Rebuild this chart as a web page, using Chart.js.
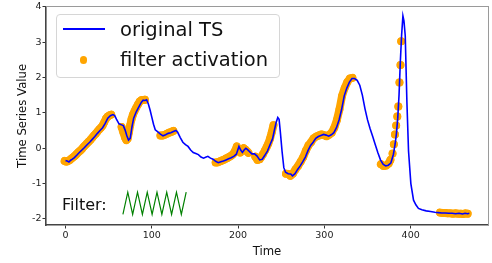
<!DOCTYPE html>
<html>
<head>
<meta charset="utf-8">
<script src="https://cdn.jsdelivr.net/npm/chart.js@4.4.1/dist/chart.umd.min.js"></script>
<style>
  body { margin: 0; background: #fff; }
  #wrap { position: relative; width: 492px; height: 263px; }
  #legend {
    position: absolute; left: 56px; top: 13.5px; width: 222px; height: 62px;
    border: 1px solid #d6d6d6; border-radius: 4px; background: rgba(255,255,255,0.8);
    font-family: "DejaVu Sans"; font-size: 19.5px; line-height: 19px; color: #111;
  }
  #legend .txt { position: absolute; left: 63px; white-space: nowrap; }
  #legend .ln { position: absolute; left: 6px; top: 13.8px; width: 42px; height: 2px; background: #0000ff; }
  #legend .dot { position: absolute; left: 22.6px; top: 41.8px; width: 7.6px; height: 7.6px; border-radius: 50%; background: #ffa500; }
  #filterLabel {
    position: absolute; left: 62px; top: 196.5px; font-family: "DejaVu Sans";
    font-size: 16px; line-height: 16px; color: #111;
  }
</style>
</head>
<body>
<div id="wrap">
  <canvas id="chart" width="492" height="263"></canvas>
  <div id="legend">
    <span class="ln"></span><span class="txt" style="top:5.2px">original TS</span>
    <span class="dot"></span><span class="txt" style="top:35.2px">filter activation</span>
  </div>
  <div id="filterLabel">Filter:</div>
</div>
<script>
// original time series
const timeX = [0, 2, 4, 6, 8, 10, 13, 16, 19, 22, 25, 28, 31, 34, 37, 40, 43, 46, 49, 52, 55, 57, 59, 62, 65, 67, 69, 71, 73, 75,
  77, 79, 82, 85, 88, 90, 92, 94, 96, 98, 100, 102, 104, 107, 110, 113, 116, 119, 122, 125, 128, 130, 133, 136, 139, 142, 145,
  148, 151, 154, 157, 160, 163, 165, 168, 171, 174, 177, 180, 183, 186, 189, 192, 195, 198, 201, 203, 205, 207, 209, 211, 213,
  216, 219, 222, 225, 228, 231, 234, 237, 240, 242, 244, 246, 247.5, 249, 251, 253, 255, 258, 261, 263, 266, 269, 272, 275,
  278, 281, 284, 287, 290, 293, 296, 299, 302, 305, 308, 311, 314, 317, 320, 323, 326, 329, 332, 335, 338, 341, 344, 347, 350,
  353, 356, 359, 362, 365, 368, 371, 374, 377, 380, 382, 383.5, 385, 386.5, 388, 389.5, 391, 392.2, 393.7, 395.6, 397.5, 400.2,
  403.3, 406, 409, 413, 418, 423, 428, 432, 436, 440, 444, 448, 452, 456, 460, 463, 466, 468];
const tsValue = [-0.35, -0.36, -0.39, -0.34, -0.31, -0.27, -0.2, -0.12, -0.05, 0.02, 0.1, 0.17, 0.25, 0.33, 0.42, 0.5, 0.58,
  0.7, 0.85, 0.92, 0.95, 0.92, 0.82, 0.69, 0.66, 0.64, 0.52, 0.36, 0.23, 0.28, 0.6, 0.85, 1.03, 1.17, 1.3, 1.36, 1.35, 1.37,
  1.25, 1.08, 0.88, 0.68, 0.52, 0.46, 0.4, 0.35, 0.38, 0.42, 0.44, 0.47, 0.5, 0.45, 0.3, 0.17, 0.1, 0.05, -0.05, -0.12, -0.15,
  -0.18, -0.25, -0.28, -0.25, -0.23, -0.28, -0.31, -0.37, -0.41, -0.38, -0.36, -0.33, -0.3, -0.27, -0.23, -0.17, 0.05, -0.05,
  -0.12, -0.05, 0.0, -0.04, -0.09, -0.16, -0.16, -0.22, -0.33, -0.31, -0.2, -0.08, 0.1, 0.27, 0.5, 0.72, 0.87, 0.82, 0.45,
  -0.1, -0.55, -0.68, -0.72, -0.73, -0.78, -0.72, -0.6, -0.5, -0.38, -0.25, -0.07, 0.08, 0.17, 0.28, 0.33, 0.36, 0.39, 0.37,
  0.34, 0.38, 0.44, 0.58, 0.8, 1.1, 1.48, 1.7, 1.87, 1.97, 1.97, 1.92, 1.78, 1.5, 1.12, 0.8, 0.55, 0.33, 0.1, -0.13, -0.33,
  -0.45, -0.5, -0.48, -0.42, -0.17, 0.12, 0.42, 0.85, 1.5, 2.44, 3.2, 3.74, 3.6, 3.18, 1.32, -0.08, -1.0, -1.47, -1.6, -1.7,
  -1.74, -1.77, -1.79, -1.81, -1.82, -1.83, -1.83, -1.84, -1.84, -1.85, -1.84, -1.86, -1.84, -1.85, -1.84];

// filter activation points (null = break between activated stretches)
const actX = [-1, 1, 3, 5, 7, 9, 11, 13, 15, 17, 19, 21, 23, 25, 27, 29, 31, 33, 35, 37, 39, 41, 43, 45, 47, 49, 51, 53, null,
  65, 67, 69, 70.5, 72, 73.5, 75, 76.5, 78, 80, 82, 84, 86, 88, 90, 92, null,
  110, 112.5, 115, 117.5, 120, 122.5, 125, null,
  174, 176, 178, 180, 182, 184, 186, 188, 190, 192, 194, 196, 198.5, 200.5, 202.5, 204.5, 206.5, 208.5, 210.5, 212, null,
  220, 222.5, 225, 227, 229, 231, 233, 235, 237, 239, 241, null,
  255.5, 258.5, 260.5, 263.5, 266.5, 269.5, 272.5, 275.5, 278.5, 281.5, 284.5, 287.5, 290.5, 293.5, 296.5, 299.5, 302.5,
  305.5, 308.5, 311.5, 314.5, 317.5, 320.5, 323.5, 326.5, 329.5, 332.5, null,
  365.5, 368.5, 371.5, 374.5, 376.5, null, 379, null, 380.5, null, 381.8, null, 383.2, null, 384.5, null, 385.7, null,
  387, null, 388.2, null, 389, null,
  434, 437, 440, 443, 446, 449, 452, 455, 458, 461, 463.5, 466];
const actY = [-0.36, -0.38, -0.36, -0.33, -0.29, -0.25, -0.21, -0.16, -0.11, -0.07, -0.02, 0.04, 0.09, 0.14, 0.19, 0.24, 0.3,
  0.36, 0.41, 0.47, 0.53, 0.58, 0.64, 0.74, 0.84, 0.9, 0.93, 0.95, null,
  0.6, 0.45, 0.3, 0.23, 0.27, 0.45, 0.65, 0.82, 0.94, 1.05, 1.15, 1.24, 1.32, 1.36, 1.36, 1.37, null,
  0.36, 0.36, 0.38, 0.41, 0.44, 0.46, 0.49, null,
  -0.4, -0.4, -0.38, -0.36, -0.34, -0.32, -0.29, -0.27, -0.24, -0.21, -0.17, -0.1, 0.05, -0.05, -0.12, -0.05, 0.0, -0.04,
  -0.09, -0.13, null,
  -0.24, -0.33, -0.31, -0.24, -0.16, -0.07, 0.03, 0.13, 0.27, 0.45, 0.65, null,
  -0.72, -0.73, -0.78, -0.72, -0.6, -0.5, -0.38, -0.25, -0.07, 0.08, 0.17, 0.28, 0.33, 0.36, 0.39, 0.37, 0.34, 0.38, 0.44,
  0.58, 0.8, 1.1, 1.48, 1.7, 1.87, 1.97, 1.99, null,
  -0.45, -0.5, -0.49, -0.43, -0.33, null, -0.15, null, 0.11, null, 0.39, null, 0.64, null, 0.9, null, 1.18, null,
  1.86, null, 2.35, null, 3.02, null,
  -1.82, -1.83, -1.83, -1.84, -1.84, -1.85, -1.84, -1.85, -1.85, -1.86, -1.84, -1.85];

// the learned filter drawn in the inset
const filterIdx = [0, 1, 2, 3, 4, 5, 6, 7, 8, 9, 10, 11, 12, 13];
const filterWeight = [-1, 1, -1, 1, -1, 1, -1, 1, -1, 1, -1, 1, -1, 1];

const xTicks = [0, 100, 200, 300, 400];
const yTicks = [-2, -1, 0, 1, 2, 3, 4];

const pairs = (xs, ys) => xs.map((x, i) => ({ x: x, y: ys[i] }));
const tickFont = { family: 'DejaVu Sans', size: 9.5 };
const labelFont = { family: 'DejaVu Sans', size: 11.7 };

new Chart(document.getElementById('chart'), {
  type: 'line',
  data: {
    datasets: [{
      label: 'original TS',
      data: pairs(timeX, tsValue),
      borderColor: '#0000ff',
      borderWidth: 1.6,
      pointRadius: 0,
      tension: 0,
      order: 0
    }, {
      label: 'filter activation',
      data: pairs(actX, actY),
      borderColor: '#ffa500',
      backgroundColor: '#ffa500',
      borderWidth: 8,
      borderCapStyle: 'round',
      borderJoinStyle: 'round',
      pointRadius: 3.9,
      pointBorderWidth: 0,
      spanGaps: false,
      order: 1
    }, {
      label: 'filter',
      data: pairs(filterIdx, filterWeight),
      xAxisID: 'xf',
      yAxisID: 'yf',
      borderColor: '#008000',
      borderWidth: 1.2,
      pointRadius: 0,
      order: 2
    }]
  },
  options: {
    responsive: false,
    animation: false,
    layout: { padding: { top: 3, right: 2, left: 0, bottom: 0 } },
    plugins: { legend: { display: false }, tooltip: { enabled: false } },
    scales: {
      x: {
        type: 'linear', position: 'bottom', min: -22.6, max: 489.6,
        afterBuildTicks: s => { s.ticks = xTicks.map(v => ({ value: v })); },
        afterFit: s => { s.height = 38; },
        grid: { display: true, drawOnChartArea: false, drawTicks: true, tickLength: 3.5, color: '#333' },
        border: { display: true, color: '#444', width: 1.6 },
        ticks: { color: '#222', font: tickFont, padding: 1, maxRotation: 0, autoSkip: false },
        title: { display: true, text: 'Time', color: '#111', font: labelFont, padding: { top: 0, bottom: 4.5 } }
      },
      y: {
        type: 'linear', position: 'left', min: -2.17, max: 4.0,
        afterBuildTicks: s => { s.ticks = yTicks.map(v => ({ value: v })); },
        afterFit: s => { s.width = 46; },
        grid: { display: true, drawOnChartArea: false, drawTicks: true, tickLength: 3.5, color: '#333' },
        border: { display: true, color: '#444', width: 1.6 },
        ticks: { color: '#222', font: tickFont, padding: 1, autoSkip: false },
        title: { display: true, text: 'Time Series Value', color: '#111', font: labelFont, padding: { top: 15.6, bottom: 0 } }
      },
      xf: {
        type: 'linear', position: 'top', min: -15.8, max: 75.0,
        afterFit: s => { s.height = 0; },
        grid: { display: false },
        ticks: { display: false },
        border: { display: true, color: '#9a9a9a', width: 1 }
      },
      yf: {
        type: 'linear', position: 'right', min: -1.95, max: 17.7,
        afterFit: s => { s.width = 0; },
        grid: { display: false },
        ticks: { display: false },
        border: { display: true, color: '#9a9a9a', width: 1 }
      }
    }
  }
});
</script>
</body>
</html>
